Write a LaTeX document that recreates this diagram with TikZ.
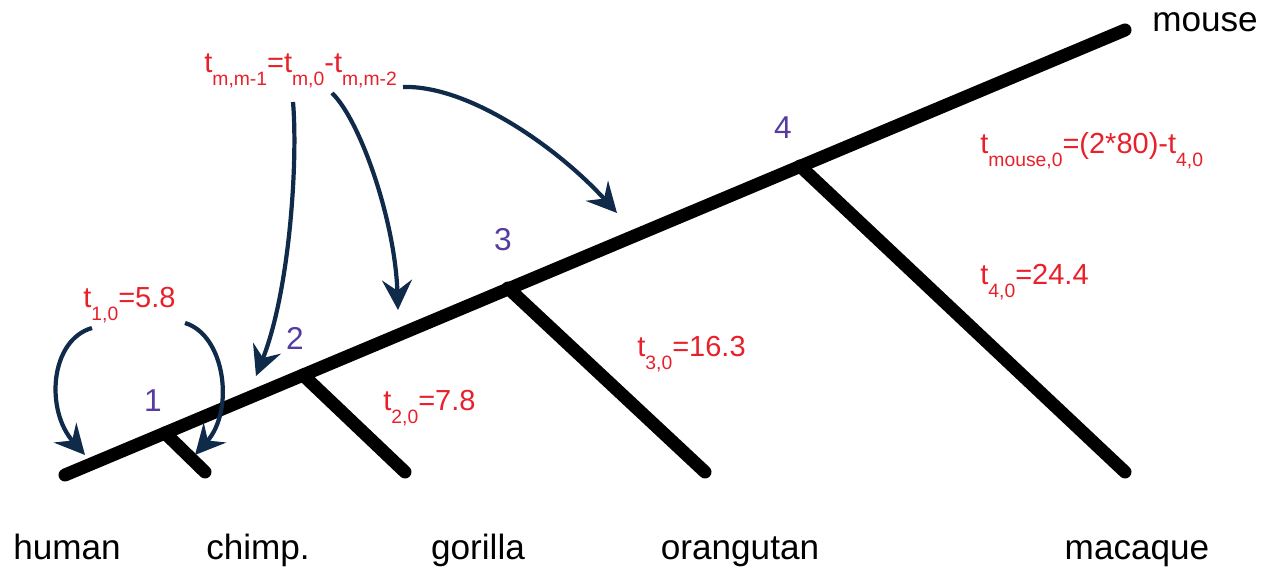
\documentclass[tikz,border=0pt]{standalone}
\usepackage{xcolor}
\usepackage{fontspec}
\setmainfont{Liberation Sans}
\usepackage{tikz}
\usetikzlibrary{arrows.meta,positioning}
\definecolor{tred}{RGB}{232,32,42}
\definecolor{npurple}{RGB}{86,60,160}
\definecolor{anavy}{RGB}{16,42,74}
\newcommand{\lo}[1]{\raisebox{-0.42em}{\fontsize{11}{11}\selectfont #1}}

\begin{document}
\begin{tikzpicture}[x=0.02cm, y=-0.02cm,
    branch/.style={line width=7.4pt, line cap=round},
    taxon/.style={font=\fontsize{20}{20}\selectfont, anchor=base},
    num/.style={font=\fontsize{18}{18}\selectfont, text=npurple},
    tlabel/.style={font=\fontsize{16.5}{16.5}\selectfont, text=tred, anchor=base west, inner sep=0pt},
    pointer/.style={->, >={Stealth[length=17pt,width=17pt,inset=6pt]}, line width=2.4pt, draw=anavy}]
    \useasboundingbox (0,0) rectangle (1271,573);
    % tree
    \coordinate (h) at (65,475);
    \coordinate (m) at (1125,30);
    \coordinate (n1) at (165,433);
    \coordinate (n2) at (303,375);
    \coordinate (n3) at (508,288);
    \coordinate (n4) at (800,166);
    \coordinate (c) at (205,472);
    \coordinate (g) at (405,472);
    \coordinate (o) at (705,472);
    \coordinate (q) at (1125,472);
    \draw[branch] (h) -- (m);
    \draw[branch] (n1) -- (c);
    \draw[branch] (n2) -- (g);
    \draw[branch] (n3) -- (o);
    \draw[branch] (n4) -- (q);
    % taxa
    \node[taxon] (human) at (67,560) {human};
    \node[taxon] (chimp) at (258,560) {chimp.};
    \node[taxon] (gorilla) at (478,560) {gorilla};
    \node[taxon] (orangutan) at (740,560) {orangutan};
    \node[taxon] (macaque) at (1137,560) {macaque};
    \node[taxon] (mouse) at (1205,32) {mouse};
    % node numbers
    \node[num] (k1) at (153,401) {1};
    \node[num] (k2) at (295,338) {2};
    \node[num] (k3) at (503,240) {3};
    \node[num] (k4) at (783,128) {4};
    % times
    \node[tlabel] (tmm) at (204,73) {t\lo{m,m-1}=t\lo{m,0}-t\lo{m,m-2}};
    \node[tlabel] (t1) at (83,308) {t\lo{1,0}=5.8};
    \node[tlabel] (t2) at (383,411) {t\lo{2,0}=7.8};
    \node[tlabel] (t3) at (637,357) {t\lo{3,0}=16.3};
    \node[tlabel] (t4) at (980,285) {t\lo{4,0}=24.4};
    \node[tlabel] (tmouse) at (980,154) {t\lo{mouse,0}=(2*80)-t\lo{4,0}};
    % arrows
    \coordinate (a1) at (92,328);
    \coordinate (b1) at (85,455);
    \coordinate (a2) at (185,323);
    \coordinate (b2) at (195,455);
    \coordinate (a3) at (293,102);
    \coordinate (b3) at (256,376);
    \coordinate (a4) at (332,93);
    \coordinate (b4) at (398,310);
    \coordinate (a5) at (403,87);
    \coordinate (b5) at (617,213);
    \draw[pointer] (a1) .. controls (50,340) and (45,410) .. (b1);
    \draw[pointer] (a2) .. controls (225,335) and (235,410) .. (b2);
    \draw[pointer] (a3) .. controls (298,160) and (290,290) .. (b3);
    \draw[pointer] (a4) .. controls (360,120) and (395,220) .. (b4);
    \draw[pointer] (a5) .. controls (470,85) and (560,150) .. (b5);
\end{tikzpicture}
\end{document}
